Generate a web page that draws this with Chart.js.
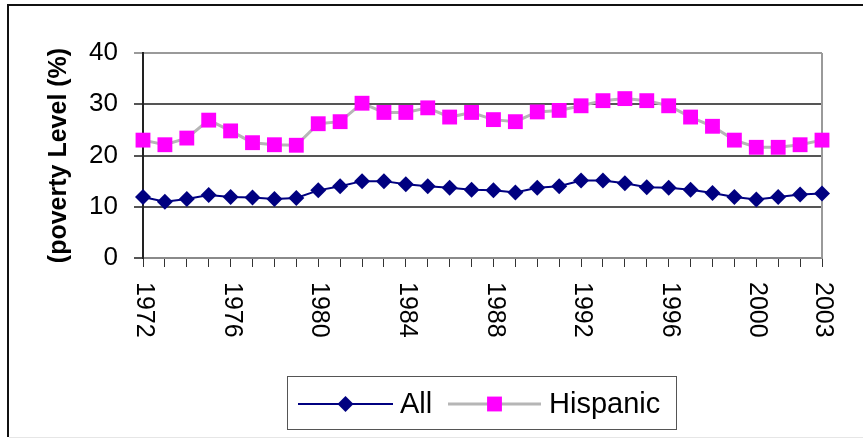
<!DOCTYPE html>
<html>
<head>
<meta charset="utf-8">
<script src="https://cdn.jsdelivr.net/npm/chart.js@4/dist/chart.umd.min.js"></script>
<style>
  html, body { margin: 0; padding: 0; background: #ffffff; }
  canvas { display: block; }
</style>
</head>
<body>
<canvas id="chart" width="863" height="439"></canvas>
<script>
// Years on the category axis
const years = ['1972','1973','1974','1975','1976','1977','1978','1979','1980','1981',
               '1982','1983','1984','1985','1986','1987','1988','1989','1990','1991',
               '1992','1993','1994','1995','1996','1997','1998','1999','2000','2001',
               '2002','2003'];

// Poverty rate, all persons (%)
const allRate = [11.9, 11.0, 11.5, 12.3, 11.9, 11.8, 11.5, 11.7, 13.2, 14.0,
                 15.0, 15.0, 14.4, 14.0, 13.7, 13.3, 13.2, 12.8, 13.7, 14.0,
                 15.1, 15.1, 14.6, 13.8, 13.7, 13.3, 12.7, 11.9, 11.4, 11.9,
                 12.4, 12.6];

// Poverty rate, Hispanic persons (%)
const hispanicRate = [23.0, 22.1, 23.4, 26.9, 24.8, 22.5, 22.1, 22.0, 26.2, 26.6,
                      30.2, 28.4, 28.4, 29.3, 27.5, 28.4, 27.0, 26.6, 28.5, 28.8,
                      29.7, 30.7, 31.1, 30.7, 29.7, 27.5, 25.7, 23.0, 21.6, 21.6,
                      22.1, 23.0];

// Years that carry a label under the axis
const labelledYears = ['1972','1976','1980','1984','1988','1992','1996','2000','2003'];

// Value axis ticks
const yTicks = [0, 10, 20, 30, 40];

const FONT = "'Liberation Sans', Arial, sans-serif";

// Outer frame of the figure and right edge of the plot area
const framePlugin = {
  id: 'frame',
  beforeDraw(chart) {
    const ctx = chart.ctx;
    ctx.save();
    ctx.fillStyle = '#ffffff';
    ctx.fillRect(0, 0, chart.width, chart.height);
    ctx.strokeStyle = '#111111';
    ctx.lineWidth = 2;
    ctx.beginPath();
    ctx.moveTo(8, 437);
    ctx.lineTo(8, 5);
    ctx.lineTo(chart.width, 5);
    ctx.stroke();
    ctx.strokeStyle = '#e6e6e6';
    ctx.lineWidth = 1;
    ctx.beginPath();
    ctx.moveTo(9, 437.5);
    ctx.lineTo(chart.width, 437.5);
    ctx.stroke();
    ctx.restore();
  },
  beforeDatasetsDraw(chart) {
    const {ctx, chartArea} = chart;
    ctx.save();
    ctx.strokeStyle = '#9a9a9a';
    ctx.lineWidth = 2;
    ctx.beginPath();
    ctx.moveTo(chartArea.right, chartArea.top);
    ctx.lineTo(chartArea.right, chartArea.bottom);
    ctx.stroke();
    ctx.restore();
  }
};

// Year labels written top-to-bottom under their ticks
const yearLabelPlugin = {
  id: 'yearLabels',
  afterDraw(chart) {
    const ctx = chart.ctx;
    const xs = chart.scales.x;
    ctx.save();
    ctx.fillStyle = '#000000';
    ctx.font = '25px ' + FONT;
    ctx.textAlign = 'left';
    ctx.textBaseline = 'middle';
    labelledYears.forEach(y => {
      const px = xs.getPixelForValue(years.indexOf(y));
      ctx.save();
      ctx.translate(px + 1, xs.top + 24);
      ctx.rotate(Math.PI / 2);
      ctx.fillText(y, 0, 0);
      ctx.restore();
    });
    ctx.restore();
  }
};

// Boxed legend with line-and-marker samples
const boxLegendPlugin = {
  id: 'boxLegend',
  afterDraw(chart) {
    const ctx = chart.ctx;
    const ds = chart.data.datasets;
    const box = {x: 287.5, y: 376.5, w: 389, h: 53};
    const cy = 404;
    ctx.save();
    ctx.strokeStyle = '#555555';
    ctx.lineWidth = 1;
    ctx.strokeRect(box.x, box.y, box.w, box.h);

    const items = [
      {ds: ds[0], x0: 298, x1: 393, tx: 400},
      {ds: ds[1], x0: 448, x1: 541, tx: 549}
    ];
    items.forEach(it => {
      const d = it.ds;
      ctx.strokeStyle = d.borderColor;
      ctx.lineWidth = d.borderWidth;
      ctx.beginPath();
      ctx.moveTo(it.x0, cy);
      ctx.lineTo(it.x1, cy);
      ctx.stroke();
      const mx = (it.x0 + it.x1) / 2;
      ctx.fillStyle = d.pointBackgroundColor;
      ctx.beginPath();
      if (d.pointStyle === 'rectRot') {
        const r = d.pointRadius;
        ctx.moveTo(mx - r, cy);
        ctx.lineTo(mx, cy - r);
        ctx.lineTo(mx + r, cy);
        ctx.lineTo(mx, cy + r);
        ctx.closePath();
      } else {
        const s = d.pointRadius * Math.SQRT1_2;
        ctx.rect(mx - s, cy - s, 2 * s, 2 * s);
      }
      ctx.fill();
      ctx.fillStyle = '#000000';
      ctx.font = '29px ' + FONT;
      ctx.textAlign = 'left';
      ctx.textBaseline = 'middle';
      ctx.fillText(d.label, it.tx, cy + 1);
    });
    ctx.restore();
  }
};

new Chart(document.getElementById('chart'), {
  type: 'line',
  data: {
    labels: years,
    datasets: [
      {
        label: 'All',
        data: allRate,
        borderColor: '#000080',
        backgroundColor: '#000080',
        borderWidth: 2,
        pointStyle: 'rectRot',
        pointRadius: 8,
        pointBackgroundColor: '#000080',
        pointBorderColor: '#000080',
        pointBorderWidth: 0,
        tension: 0,
        clip: false
      },
      {
        label: 'Hispanic',
        data: hispanicRate,
        borderColor: '#b6b6b6',
        backgroundColor: '#ff00ff',
        borderWidth: 3,
        pointStyle: 'rect',
        pointRadius: 10.5,
        pointBackgroundColor: '#ff00ff',
        pointBorderColor: '#ff33ff',
        pointBorderWidth: 0,
        tension: 0,
        clip: false
      }
    ]
  },
  options: {
    responsive: false,
    animation: false,
    devicePixelRatio: 1,
    layout: { padding: { left: 0, right: 41, top: 53, bottom: 0 } },
    plugins: {
      legend: { display: false },
      tooltip: { enabled: false }
    },
    scales: {
      x: {
        type: 'category',
        offset: false,
        grid: {
          drawOnChartArea: false,
          drawTicks: true,
          tickLength: 9,
          color: '#333333',
          lineWidth: 1
        },
        border: { color: '#8a8a8a', width: 2 },
        ticks: { display: false, autoSkip: false },
        afterFit(scale) { scale.height = 181; }
      },
      y: {
        min: 0,
        max: 40,
        afterBuildTicks(scale) { scale.ticks = yTicks.map(v => ({value: v})); },
        grid: {
          drawTicks: true,
          tickLength: 9,
          color: ctx => (ctx.tick && ctx.tick.value === 40) ? '#9a9a9a' : '#555555',
          lineWidth: 2
        },
        border: { color: '#222222', width: 2 },
        ticks: {
          color: '#000000',
          font: { family: FONT, size: 26 },
          padding: 16
        },
        title: {
          display: true,
          text: '(poverty Level (%)',
          color: '#000000',
          font: { family: FONT, size: 25, weight: 'bold' },
          padding: { top: 44, bottom: 0 }
        },
        afterFit(scale) { scale.width = 143; }
      }
    }
  },
  plugins: [framePlugin, yearLabelPlugin, boxLegendPlugin]
});
</script>
</body>
</html>
